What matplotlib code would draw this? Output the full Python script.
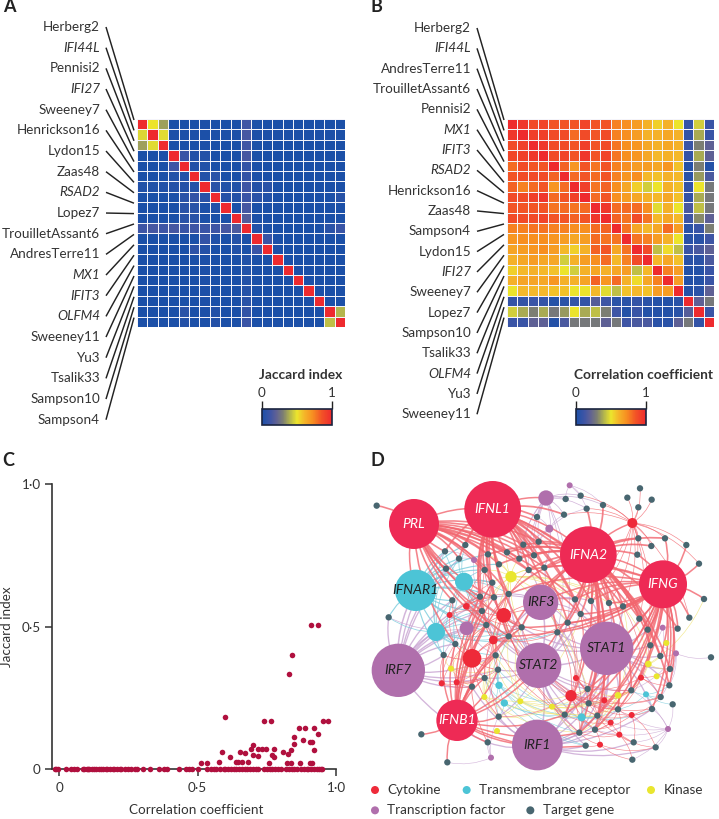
import numpy as np
import matplotlib
matplotlib.use("Agg")
import matplotlib.pyplot as plt
from matplotlib.colors import LinearSegmentedColormap
from matplotlib.cm import ScalarMappable
from matplotlib.patches import Circle, PathPatch
from matplotlib.path import Path

plt.rcParams['font.family'] = ['Lato', 'DejaVu Sans']

W, H = 719, 819
TEXT = '#333333'
FS = 9.75

# panel A
jaccard_labels = ['Herberg2', 'IFI44L', 'Pennisi2', 'IFI27', 'Sweeney7', 'Henrickson16', 'Lydon15', 'Zaas48',
                  'RSAD2', 'Lopez7', 'TrouilletAssant6', 'AndresTerre11', 'MX1', 'IFIT3', 'OLFM4', 'Sweeney11',
                  'Yu3', 'Tsalik33', 'Sampson10', 'Sampson4']
jaccard = [
    [1, .5, .36, 0, 0, 0, 0, 0, 0, 0, .12, 0, 0, 0, 0, 0, 0, 0, 0, 0],
    [.47, 1, .48, 0, 0, 0, 0, 0, 0, 0, .14, 0, 0, 0, 0, 0, 0, 0, 0, 0],
    [.36, .48, 1, 0, 0, 0, 0, 0, 0, 0, .12, 0, 0, 0, 0, 0, 0, 0, 0, 0],
    [0, 0, 0, 1, .1, .03, .03, 0, 0, 0, .14, 0, 0, 0, 0, 0, 0, 0, 0, 0],
    [0, 0, 0, .12, 1, .03, .02, 0, 0, 0, .08, 0, 0, 0, 0, 0, 0, 0, 0, 0],
    [0, 0, 0, .02, .02, 1, .02, .05, 0, 0, .08, 0, 0, 0, 0, 0, 0, 0, 0, 0],
    [.02, .02, .02, .03, .03, .03, 1, .05, .02, .02, .12, .03, .05, 0, 0, 0, 0, 0, 0, 0],
    [0, 0, 0, 0, .05, .08, .05, 1, .03, .03, .1, .05, .02, 0, 0, 0, 0, 0, 0, .04],
    [0, 0, 0, 0, .05, .05, 0, .02, 1, 0, .14, 0, 0, 0, 0, 0, 0, 0, 0, 0],
    [0, 0, 0, 0, .05, .05, 0, 0, 0, 1, .17, 0, 0, 0, 0, 0, 0, 0, 0, 0],
    [.12, .14, .12, .14, .1, .12, .1, .12, .14, .16, 1, .02, 0, 0, 0, 0, 0, 0, .05, .1],
    [0, 0, 0, 0, 0, 0, .08, .02, 0, .03, 0, 1, .1, 0, 0, 0, 0, 0, 0, 0],
    [0, 0, 0, 0, 0, .06, .03, 0, 0, .02, 0, .1, 1, 0, 0, 0, 0, 0, 0, 0],
    [0, 0, 0, 0, 0, 0, 0, 0, 0, 0, .02, 0, 0, 1, 0, 0, 0, 0, 0, 0],
    [0, 0, 0, 0, 0, 0, 0, 0, 0, 0, .02, 0, 0, 0, 1, 0, 0, 0, 0, 0],
    [0, 0, 0, 0, 0, 0, 0, 0, 0, 0, .03, 0, 0, 0, 0, 1, 0, 0, 0, 0],
    [0, 0, 0, 0, 0, 0, 0, 0, 0, 0, .04, 0, 0, 0, 0, 0, 1, 0, 0, 0],
    [0, 0, 0, 0, 0, 0, 0, 0, 0, 0, .05, 0, 0, 0, 0, 0, 0, 1, 0, 0],
    [0, 0, 0, 0, .05, 0, 0, .03, 0, 0, .08, 0, 0, 0, 0, 0, 0, 0, 1, .4],
    [0, 0, 0, 0, .03, 0, 0, .03, 0, 0, .1, 0, 0, 0, 0, 0, 0, 0, .42, 1],
]

# panel B
corr_labels = ['Herberg2', 'IFI44L', 'AndresTerre11', 'TrouilletAssant6', 'Pennisi2', 'MX1', 'IFIT3', 'RSAD2',
               'Henrickson16', 'Zaas48', 'Sampson4', 'Lydon15', 'IFI27', 'Sweeney7', 'Lopez7', 'Sampson10',
               'Tsalik33', 'OLFM4', 'Yu3', 'Sweeney11']
corr = [
    [1, .95, .88, .9, .85, .85, .85, .9, .85, .85, .75, .72, .68, .62, .55, .62, .5, .08, .45, .1],
    [.95, 1, .92, .92, .88, .88, .8, .88, .85, .88, .75, .72, .68, .62, .62, .65, .62, .08, .38, .1],
    [.88, .92, 1, .95, .88, .88, .85, .92, .85, .88, .78, .72, .7, .65, .62, .65, .62, .1, .3, .2],
    [.9, .92, .95, 1, .88, .9, .85, .95, .85, .9, .78, .72, .7, .65, .6, .62, .6, .08, .38, .2],
    [.8, .88, .85, .85, 1, .82, .7, .85, .78, .85, .75, .72, .68, .68, .65, .7, .58, .03, .3, .03],
    [.85, .88, .88, .88, .82, 1, .8, .85, .8, .85, .75, .7, .72, .6, .58, .62, .6, .05, .35, .15],
    [.82, .75, .8, .85, .7, .8, 1, .92, .78, .82, .72, .65, .55, .45, .5, .62, .58, .08, .5, .28],
    [.88, .88, .92, .95, .8, .85, .92, 1, .8, .85, .72, .68, .65, .62, .6, .65, .58, .08, .38, .28],
    [.85, .85, .85, .85, .78, .8, .78, .8, 1, .95, .8, .8, .8, .72, .48, .62, .5, .15, .42, .28],
    [.88, .88, .88, .9, .85, .85, .82, .85, .95, 1, .82, .78, .88, .78, .6, .65, .6, .12, .32, .2],
    [.75, .75, .78, .78, .75, .75, .72, .72, .8, .82, 1, .78, .65, .6, .65, .8, .68, .05, .1, .3],
    [.7, .72, .72, .72, .7, .68, .65, .68, .8, .78, .78, 1, .78, .75, .68, .62, .5, .05, .05, .12],
    [.66, .68, .7, .72, .68, .6, .55, .62, .82, .85, .65, .78, 1, .88, .42, .52, .42, .1, .15, .2],
    [.62, .65, .68, .65, .65, .45, .62, .68, .72, .8, .6, .75, .88, 1, .6, .65, .58, .05, .05, .15],
    [.55, .6, .62, .6, .58, .5, .45, .62, .65, .62, .65, .68, .42, .6, 1, .75, .68, .03, .03, .1],
    [.62, .66, .66, .65, .7, .62, .62, .66, .82, .7, .8, .62, .52, .65, .75, 1, .68, .03, .03, .1],
    [.5, .6, .6, .6, .58, .58, .5, .5, .6, .48, .42, .58, .6, .58, .68, .68, 1, .03, .05, .2],
    [.08, .08, .1, .08, .03, .05, .08, .08, .18, .12, .05, .05, .08, .05, .03, .03, .05, 1, .2, .28],
    [.45, .38, .3, .38, .28, .35, .5, .38, .42, .3, .12, .03, .1, .03, .03, .03, .05, .18, 1, .1],
    [.1, .1, .2, .2, .03, .15, .28, .28, .28, .2, .28, .12, .15, .15, .05, .05, .2, .28, .08, 1],
]

# panel C, points above zero then the row of points on zero
scatter_x = [.513, .534, .577, .587, .598, .619, .640, .647, .653, .661, .672, .684, .692, .699, .700, .717, .719,
             .733, .741, .748, .759, .766, .770, .775, .777, .808, .823, .827, .829, .839, .839, .841, .847, .848,
             .865, .870, .882, .889, .906, .907, .908, .914, .914, .920, .922, .936, .936, .952, .971]
scatter_y = [.021, .021, .026, .059, .183, .041, .026, .025, .059, .025, .055, .025, .069, .085, .049, .069, .047,
             .069, .168, .069, .022, .168, .049, .041, .069, .061, .022, .054, .335, .022, .065, .401, .087, .113,
             .143, .022, .101, .143, .093, .022, .504, .093, .022, .143, .067, .504, .123, .168, .168]
zero_x = [-.015, -.01, -.005, .024, .045, .055, .065, .085, .09, .1, .105, .11, .12, .125, .135, .145, .15, .16, .17,
          .175, .185, .195, .2, .21, .22, .225, .24, .25, .26, .275, .28, .304, .33, .36, .38, .39, .435, .46, .47,
          .48, .5, .535, .55, .56, .565, .58, .595, .6, .61, .62, .63, .64, .65, .66, .67, .68, .69, .7, .71, .72,
          .74, .75, .76, .77, .78, .79, .8, .82, .83, .84, .85, .86, .875, .885, .895, .9, .91, .92, .93, .94, .945,
          .95]

# panel D, positions are the layout of the network
hub_names = ['PRL', 'IFNL1', 'IFNA2', 'IFNG', 'IFNB1', 'IRF7', 'STAT2', 'STAT1', 'IRF3', 'IRF1', 'IFNAR1',
             '', '', '', '', '', '', '', '', '', '', '', '', '', '', '', '', '',
             '', '', '', '', '', '', '', '', '', '', '', '',
             '', '', '', '', '', '', '', '', '']
hub_x = [192, 428, 715, 939, 321, 145, 566, 770, 572, 562, 197,
         342, 258, 588, 350, 461, 366, 430, 483, 663, 847, 598, 659, 938, 978, 954, 423, 372,
         349, 299, 275, 320, 678, 763, 873, 845, 782, 808, 750, 447, 463, 695,
         888, 303, 403, 511, 606, 804, 895]
hub_y = [252, 208, 344, 433, 841, 691, 676, 625, 487, 915, 451,
         425, 576, 174, 565, 526, 655, 600, 410, 767, 249, 266, 136, 563, 640, 867, 953, 360,
         499, 525, 730, 727, 714, 781, 713, 825, 848, 884, 914, 736, 789, 832,
         763, 686, 771, 784, 800, 766, 672]
hub_r = [75, 85, 85, 72, 62, 80, 68, 80, 53, 76, 62,
         27, 27, 23, 21, 22, 28, 13, 17, 17, 15, 12, 9, 9, 9, 9, 9, 9,
         10, 9, 9, 9, 9, 9, 9, 9, 9, 9, 9, 11, 11, 12,
         9, 9, 9, 9, 9, 10, 10]
hub_kind = ['c', 'c', 'c', 'c', 'c', 'p', 'p', 'p', 'p', 'p', 't',
            't', 't', 'p', 'p', 's', 's', 's', 'y', 's', 's', 'p', 'p', 'p', 'p', 'p', 'p', 'p',
            's', 's', 's', 's', 's', 's', 's', 's', 's', 's', 's', 't', 't', 't',
            't', 'y', 'y', 'y', 'y', 'y', 'y']
extra_yellow_x = [920, 949, 441]
extra_yellow_y = [709, 609, 873]
gene_x = [80, 285, 346, 327, 288, 414, 471, 520, 566, 508, 552, 447, 404, 536, 583, 427, 476, 432, 390, 307, 396, 409,
          476, 515, 622, 653, 692, 675, 723, 777, 819, 868, 893, 983, 1018, 1062, 1047, 1009, 945, 904, 865, 862, 865,
          905, 870, 832, 759, 710, 692, 647, 642, 561, 116, 316, 281, 437, 444, 404, 366, 446, 413, 214, 292, 688,
          707, 735, 742, 716, 713, 644, 804, 844, 906, 932, 968, 958, 960, 931, 901, 1083, 851, 917, 847]
gene_y = [197, 334, 315, 356, 386, 343, 337, 314, 305, 356, 346, 373, 390, 390, 383, 428, 462, 472, 470, 481, 513, 555,
          589, 562, 577, 548, 522, 478, 483, 489, 499, 536, 569, 566, 533, 477, 371, 315, 295, 318, 295, 344, 202,
          179, 145, 173, 195, 206, 167, 177, 224, 231, 532, 612, 645, 646, 689, 714, 740, 830, 907, 883, 967, 878,
          917, 869, 827, 790, 747, 824, 808, 751, 807, 771, 793, 736, 687, 648, 616, 652, 907, 922, 959]

# hub index: genes it links to
gene_links = {
    0: [0, 1, 2, 3, 4, 5, 6, 7, 8, 9, 10, 11, 12, 13, 14, 15, 16, 17, 18, 19, 20, 21, 22, 23, 26, 27, 53],
    1: [1, 2, 3, 5, 6, 7, 8, 9, 10, 11, 12, 13, 14, 15, 16, 17, 18, 20, 21, 22, 23, 24, 25, 26, 27, 28, 29, 30, 31, 50,
        51],
    2: [5, 6, 7, 8, 9, 10, 11, 13, 14, 16, 22, 23, 24, 25, 26, 27, 28, 29, 30, 31, 32, 33, 38, 39, 40, 41, 46, 47, 63,
        65, 66, 67, 68, 69, 70, 71, 75, 76, 77, 78],
    3: [13, 14, 16, 22, 23, 24, 25, 26, 27, 28, 29, 30, 31, 32, 33, 34, 35, 36, 37, 38, 41, 63, 65, 66, 67, 68, 69, 70,
        71, 72, 73, 75, 76, 77, 78],
    4: [53, 54, 55, 56, 57, 58, 59, 60, 61, 62, 15, 16, 17, 18, 20, 21, 22, 23, 24, 63, 64, 69],
    5: [1, 3, 4, 17, 18, 19, 20, 21, 52, 53, 54, 55, 56, 57, 58, 60],
    6: [16, 17, 20, 21, 22, 23, 24, 25, 26, 27, 55, 56, 57, 59, 63, 64, 65, 66, 67, 68, 69, 70, 71],
    7: [24, 25, 26, 27, 28, 29, 30, 31, 32, 63, 65, 66, 67, 68, 69, 70, 71, 72, 73, 75, 76, 77, 78, 22, 23],
    8: [13, 14, 16, 17, 22, 23, 24, 25, 26, 27, 28, 55, 67],
    9: [59, 60, 63, 64, 65, 66, 67, 69, 70, 72, 80, 81, 57, 58],
    10: [1, 2, 3, 4, 5, 11, 12, 15, 17, 18, 19, 20, 21, 22, 52, 53, 54],
    11: [1, 2, 3, 4, 12, 15, 18, 19, 20, 21, 53, 54, 16, 22, 23],
    12: [1, 3, 4, 18, 19, 20, 21, 22, 52, 53, 54, 55, 23, 24],
    13: [46, 47, 48, 49, 50, 51, 7, 8, 9, 10, 13, 14, 24, 25],
    14: [52, 18, 19, 20, 21, 53, 54, 23, 55],
    15: [15, 16, 17, 18, 20, 21, 22, 23, 24, 55, 56, 57, 12, 13, 63, 69, 26, 27, 67],
    16: [21, 53, 54, 55, 56, 57, 58, 59, 60, 22, 23, 20, 18, 19, 16, 15],
    17: [20, 21, 22, 23, 55, 56, 57, 15, 16, 69, 59, 24, 25, 12],
    18: [5, 6, 9, 11, 12, 13, 14, 15, 16, 17, 20, 23, 25, 27, 28, 22, 55, 68, 29, 30],
    19: [63, 65, 66, 67, 68, 69, 70, 24, 25, 26, 22, 23, 59, 71, 72, 73],
    20: [29, 30, 31, 36, 37, 38, 39, 40, 41, 42, 43, 44, 45, 46, 47, 48, 50, 27, 28, 32, 34],
    21: [47, 50, 51, 8, 9, 10, 14],
    22: [46, 47, 48, 49],
    23: [32, 33, 77, 78],
    24: [75, 76, 77, 78, 79, 71, 73],
    25: [65, 70, 71, 72, 80, 81, 82, 66, 74],
    26: [59, 60, 62, 56],
    27: [1, 3, 5, 12, 18],
    28: [18, 20, 21, 17, 15, 12, 16, 23],
    29: [18, 20, 21, 53, 19, 17],
    30: [54, 57, 58, 53, 21],
    31: [57, 58, 56, 21, 55, 53],
    32: [67, 68, 63, 66, 24, 25, 26, 70, 71, 69],
    33: [66, 70, 71, 65, 68, 67, 73, 26, 63],
    34: [71, 73, 75, 76, 30, 32, 78, 68, 70],
    35: [70, 72, 73, 80, 81, 66, 65, 67],
    36: [65, 66, 63, 70, 80, 67, 69],
    37: [63, 65, 80, 81, 82, 66, 70],
    38: [64, 63, 65, 81, 82],
    39: [55, 56, 57, 59, 64, 63, 22, 67, 69],
    40: [57, 59, 56, 69, 64, 66],
    41: [63, 65, 66, 69, 67, 70, 72, 68, 24, 56],
    42: [72, 73, 74, 75, 71, 70],
    43: [54, 57, 58, 21, 56, 55],
    44: [56, 57, 59, 55, 23, 63, 68, 70],
    45: [56, 59, 67, 69, 23, 22, 66, 71, 26],
    46: [67, 69, 66, 68, 63, 55, 59, 71],
    47: [67, 70, 71, 68, 66, 65, 63, 30],
    48: [76, 77, 78, 71, 30, 32, 35],
}
# pairs of hubs that link directly
hub_pairs = [(0, 10), (0, 1), (1, 2), (2, 3), (1, 13), (5, 10), (5, 14), (4, 16), (2, 8), (3, 7), (6, 7), (6, 8),
             (4, 9), (5, 12), (2, 20), (6, 9), (7, 9), (3, 8), (4, 6)]

legend_names = ['Cytokine', 'Transmembrane receptor', 'Kinase', 'Transcription factor', 'Target gene']
legend_kinds = ['s', 't', 'y', 'p', 'g']

heat_cmap = LinearSegmentedColormap.from_list('heat', [
    (0, '#1c50a8'), (.12, '#3f55a5'), (.2, '#5e6095'), (.3, '#7d7f72'), (.4, '#b4b64c'),
    (.5, '#ece52c'), (.6, '#f4b82a'), (.72, '#f79021'), (.85, '#f25426'), (.92, '#f0402a'), (1, '#ee2a2e')])
node_col = {'c': '#ee2a55', 's': '#ee2a39', 'p': '#b06fac', 't': '#4cc4d6', 'y': '#e9e62f', 'g': '#486670'}
edge_col = {'c': '#f2666f', 's': '#f2666f', 'p': '#c9a4d2', 't': '#78cbdc', 'y': '#efe26c'}
edge_order = {'p': 1.0, 't': 1.1, 'y': 1.2, 's': 1.3, 'c': 1.4}


def px_axes(fig, left, top, right, bottom, **kw):
    return fig.add_axes([left / W, 1 - bottom / H, (right - left) / W, (bottom - top) / H], **kw)


fig = plt.figure(figsize=(W / 100, H / 100), dpi=100)
bg = px_axes(fig, 0, 0, W, H)
bg.set_xlim(0, W)
bg.set_ylim(H, 0)
bg.axis('off')

ITALIC = {'IFI44L', 'IFI27', 'RSAD2', 'MX1', 'IFIT3', 'OLFM4'}


def heat_panel(matrix, labels, left, right, lab_x, lab_top, lab_step, title, cb_left, title_x):
    ax = px_axes(fig, left, 119, right, 327)
    ax.pcolormesh(np.array(matrix), cmap=heat_cmap, vmin=0, vmax=1, edgecolors='#f4f4fa', linewidth=0.45)
    ax.set_ylim(20, 0)
    ax.axis('off')
    cell = (327 - 119) / 20
    for i, name in enumerate(labels):
        y = lab_top + i * lab_step
        bg.text(lab_x, y, name, ha='right', va='center', fontsize=FS, color=TEXT,
                style='italic' if name in ITALIC else 'normal')
        bg.plot([lab_x + 6, left - 3], [y, 120 + i * cell], color='#222222', lw=1.05, solid_capstyle='butt')
    cax = px_axes(fig, cb_left, 409, cb_left + 70, 425)
    cb = fig.colorbar(ScalarMappable(cmap=heat_cmap, norm=plt.Normalize(0, 1)), cax=cax, orientation='horizontal')
    cb.set_ticks([0, 1], labels=['0', '1'])
    cax.xaxis.set_ticks_position('top')
    cax.tick_params(length=6, width=1, pad=1, labelsize=FS, labelcolor=TEXT, color='#222222')
    cb.outline.set_linewidth(1.2)
    cb.outline.set_edgecolor('#1a2440')
    bg.text(title_x, 375, title, ha='center', va='center', fontsize=FS + .2, fontweight='bold', color=TEXT)


heat_panel(jaccard, jaccard_labels, 137, 345, 100, 27, 20.67, 'Jaccard index', 262, 300.5)
heat_panel(corr, corr_labels, 507, 714, 471, 28, 20.33, 'Correlation coefficient', 576, 643.5)

# panel C
ax = px_axes(fig, 52, 484, 336, 769)
ax.set_xlim(-7 / 277, 1)
ax.set_ylim(0, 1)
ax.scatter(zero_x + scatter_x, [0] * len(zero_x) + scatter_y, s=16, color='#b0103e', linewidths=0, clip_on=False,
           zorder=3)
ax.spines[['top', 'right']].set_visible(False)
ax.spines[['left', 'bottom']].set_linewidth(1.2)
ax.spines[['left', 'bottom']].set_color('#333333')
ax.set_xticks([0, .5, 1], labels=['0', '0·5', '1·0'])
ax.set_yticks([0, .5, 1], labels=['0', '0·5', '1·0'])
ax.tick_params(length=5.2, width=1.1, color='#333333', labelsize=FS, labelcolor=TEXT, pad=3)
ax.tick_params(axis='x', pad=4.5)
bg.text(196, 810, 'Correlation coefficient', ha='center', va='center', fontsize=FS, color=TEXT)
bg.text(7, 627, 'Jaccard index', ha='center', va='center', rotation=90, fontsize=FS, color=TEXT)

# panel D, in the units of the layout
net = px_axes(fig, 350, 440, W, H)
net.set_xlim(0, 1107)
net.set_ylim(1137, 0)
net.axis('off')
CX, CY = 560, 540


def edge(x0, y0, x1, y1, kind, lw):
    mx, my = (x0 + x1) / 2, (y0 + y1) / 2
    nx, ny = -(y1 - y0), x1 - x0
    if nx * (mx - CX) + ny * (my - CY) < 0:
        nx, ny = -nx, -ny
    p = Path([(x0, y0), (mx + .16 * nx, my + .16 * ny), (x1, y1)], [Path.MOVETO, Path.CURVE3, Path.CURVE3])
    net.add_patch(PathPatch(p, fc='none', ec=edge_col[kind], lw=lw, alpha=.8, zorder=edge_order[kind]))


for hub, genes in gene_links.items():
    lw = .35 + hub_r[hub] / 85 * .65
    if hub_kind[hub] == 'c':
        lw += .25
    for g in genes:
        edge(hub_x[hub], hub_y[hub], gene_x[g], gene_y[g], hub_kind[hub], lw)
for a, b in hub_pairs:
    edge(hub_x[a], hub_y[a], hub_x[b], hub_y[b], hub_kind[a], 1.1)

for x, y in zip(gene_x, gene_y):
    net.add_patch(Circle((x, y), 9.5, fc=node_col['g'], ec='none', zorder=3))
for x, y in zip(extra_yellow_x, extra_yellow_y):
    net.add_patch(Circle((x, y), 9, fc=node_col['y'], ec='none', zorder=3))
for name, x, y, r, kind in zip(hub_names, hub_x, hub_y, hub_r, hub_kind):
    net.add_patch(Circle((x, y), r, fc=node_col[kind], ec='none', zorder=4))
    if name:
        col = 'white' if kind == 'c' else '#222222'
        net.text(x, y, name, ha='center', va='center', style='italic', fontsize=FS + .3, color=col, zorder=5)

legend_pos_x = [75, 350, 903, 75, 541]
legend_pos_y = [1050, 1050, 1050, 1111, 1111]
for name, kind, x, y in zip(legend_names, legend_kinds, legend_pos_x, legend_pos_y):
    net.add_patch(Circle((x, y), 12, fc=node_col[kind], ec='none'))
    net.text(x + 37, y, name, ha='left', va='center', fontsize=FS, color=TEXT)

for letter, x, y in [('A', 3, 7), ('B', 371, 7), ('C', 2, 461), ('D', 371, 461)]:
    bg.text(x, y, letter, ha='left', va='center', fontsize=13, fontweight='bold', color='#222222')

fig.savefig('out.png', dpi=100)
